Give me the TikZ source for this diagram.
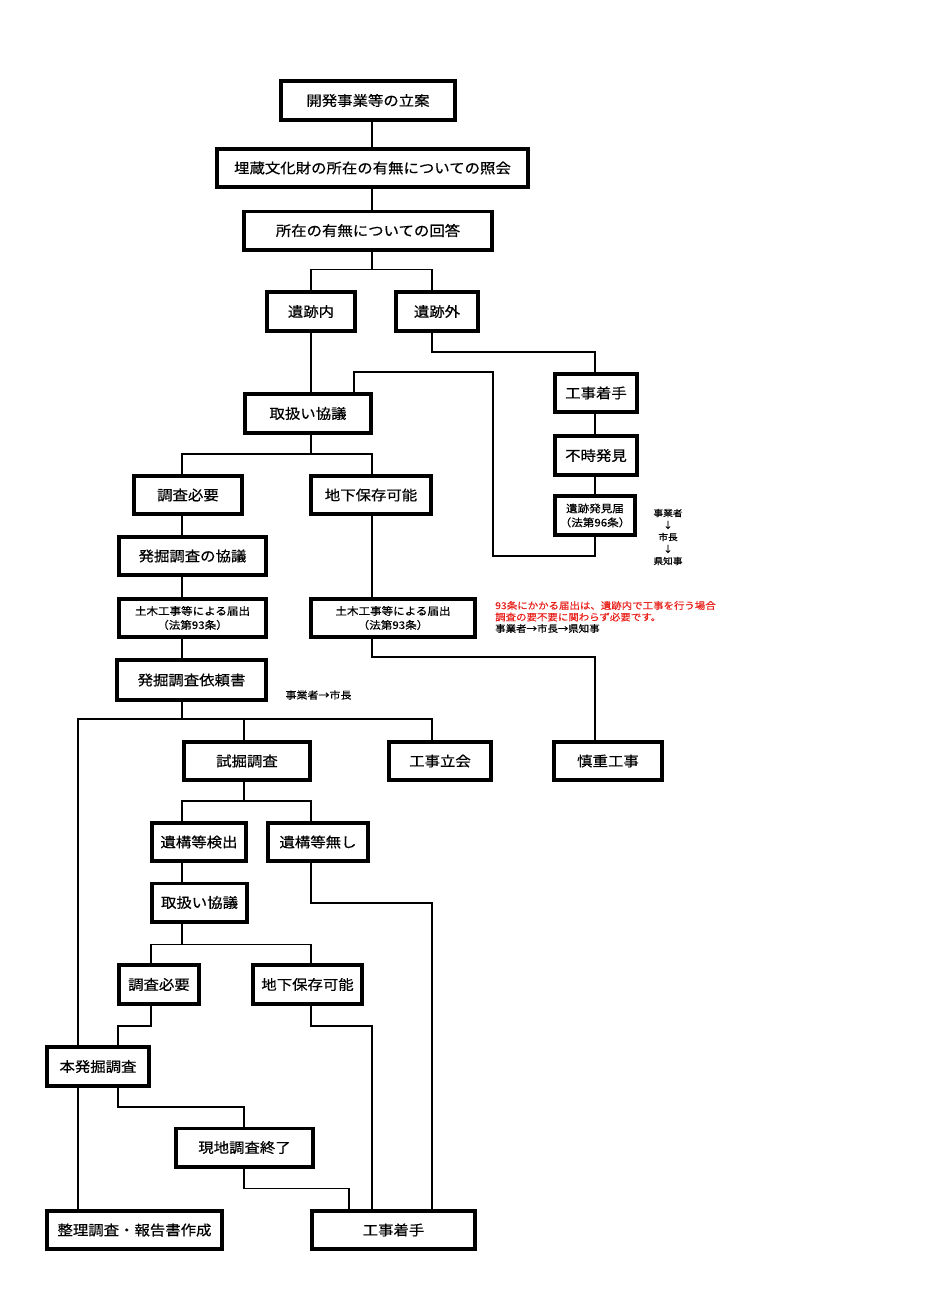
\documentclass[tikz,border=0pt]{standalone}
\usepackage{fontspec}
\setmainfont[FakeStretch=1.1,FakeBold=0.5]{Noto Sans CJK JP}
\usepackage{xcolor}
\usepackage{tikz}
\usetikzlibrary{positioning}
\definecolor{notered}{HTML}{E8231E}
\tikzset{
  box/.style  = {draw=black, line width=3.6pt, fill=white, align=center, inner sep=0pt,
                 minimum height=38.4pt, font=\fontsize{14}{16}\selectfont},
  sbox/.style = {box, font=\fontsize{10.5}{14}\selectfont},
  ln/.style   = {line width=1.2pt},
  note/.style = {align=left, inner sep=0pt, font=\fontsize{9.5}{11.5}\selectfont},
}

\begin{document}
\begin{tikzpicture}[x=1pt, y=-1pt]
  \useasboundingbox (0,0) rectangle (932,1300);
  % columns where the connectors run
  \foreach \n/\x in {colA/78,colB/118,colC/151,colD/182,colE/244,colF/311,colG/349,
                     colH/372,colI/432,colM/354,colK/595} {
     \coordinate (\n) at (\x,0);
  }
  \coordinate (loop) at (493,372);

  % top part
  \node[box, minimum width=174.4pt, minimum height=39.4pt] (tachian) at (368,100.5) {開発事業等の立案};
  \node[box, minimum width=311.4pt] (shokai) at (372.5,168) {埋蔵文化財の所在の有無についての照会};
  \node[box, minimum width=248.4pt] (kaito) at (368,230.5) {所在の有無についての回答};
  \node[box, minimum width=88.4pt, minimum height=39.4pt] (inn) at (311,311.5) {遺跡内};
  \node[box, minimum width=82.4pt, minimum height=39.4pt] (gai) at (437,311.5) {遺跡外};
  \node[box, minimum width=126.4pt, minimum height=39.4pt] (kyogi) at (308,413.5) {取扱い協議};

  % outside the site
  \node[box, minimum width=82.4pt] (chakushuA) at (596,393) {工事着手};
  \node[box, minimum width=82.4pt, minimum height=39.4pt] (futoki) at (596,455.5) {不時発見};
  \node[sbox, minimum width=80.4pt, minimum height=39.4pt] (todoke96) at (595,515.5) {遺跡発見届\\（法第96条）};
  \node[note, align=center, font=\fontsize{8.8}{12}\selectfont] (note96) at (668,537) {事業者\\↓\\市長\\↓\\県知事};

  % inside the site
  \node[box, minimum width=108.4pt] (hitsuyo) at (188,495) {調査必要};
  \node[box, minimum width=120.4pt] (chika) at (371,495) {地下保存可能};
  \node[box, minimum width=147.4pt] (hkyogi) at (192.5,556) {発掘調査の協議};
  \node[sbox, minimum width=147.4pt] (doboku1) at (192.5,618) {土木工事等による届出\\（法第93条）};
  \node[sbox, minimum width=164.4pt] (doboku2) at (393,618) {土木工事等による届出\\（法第93条）};
  \node[note, anchor=west] (note93) at (495,617) {\textcolor{notered}{93条にかかる届出は、遺跡内で工事を行う場合}\\
    \textcolor{notered}{調査の要不要に関わらず必要です。}\\事業者→市長→県知事};
  \node[box, minimum width=149.4pt, minimum height=40.4pt] (irai) at (191.5,680) {発掘調査依頼書};
  \node[note, font=\fontsize{10}{10}\selectfont] (noteirai) at (318.5,695) {事業者→市長};

  \node[box, minimum width=126.4pt] (shikutsu) at (247,761) {試掘調査};
  \node[box, minimum width=102.4pt] (tachiai) at (440,761) {工事立会};
  \node[box, minimum width=108.4pt] (shincho) at (608,761) {慎重工事};
  \node[box, minimum width=94.4pt] (kenshutsu) at (199,842) {遺構等検出};
  \node[box, minimum width=100.4pt] (nashi) at (318,842) {遺構等無し};
  \node[box, minimum width=95.4pt] (kyogi2) at (199.5,902.5) {取扱い協議};
  \node[box, minimum width=80.4pt, minimum height=39.4pt] (hitsuyo2) at (159,984.5) {調査必要};
  \node[box, minimum width=109.4pt, minimum height=39.4pt] (chika2) at (307.5,984.5) {地下保存可能};
  \node[box, minimum width=102.4pt, minimum height=39.4pt] (honkussa) at (98,1066.5) {本発掘調査};
  \node[box, minimum width=137.4pt] (genchi) at (244.5,1147.5) {現地調査終了};
  \node[box, minimum width=175.4pt] (seiri) at (134.5,1230) {整理調査・報告書作成};
  \node[box, minimum width=163.4pt] (chakushuB) at (393.5,1230) {工事着手};

  % connectors
  \draw[ln] (tachian.south -| colH) -- (shokai.north -| colH);
  \draw[ln] (shokai.south -| colH) -- (kaito.north -| colH);
  \draw[ln] (kaito.south -| colH) -- ++(0,18) -| (inn.north -| colF);
  \draw[ln] (kaito.south -| colH) ++(0,18) -| (gai.north -| colI);
  \draw[ln] (inn.south -| colF) -- (kyogi.north -| colF);
  \draw[ln] (gai.south -| colI) -- ++(0,19) -| (chakushuA.north -| colK);
  \draw[ln] (chakushuA.south -| colK) -- (futoki.north -| colK);
  \draw[ln] (futoki.south -| colK) -- (todoke96.north -| colK);
  \draw[ln] (todoke96.south -| colK) -- ++(0,19) -| (loop) -| (kyogi.north -| colM);
  \draw[ln] (kyogi.south -| colF) -- ++(0,19) -| (hitsuyo.north -| colD);
  \draw[ln] (kyogi.south -| colF) ++(0,19) -| (chika.north -| colH);
  \draw[ln] (hitsuyo.south -| colD) -- (hkyogi.north -| colD);
  \draw[ln] (hkyogi.south -| colD) -- (doboku1.north -| colD);
  \draw[ln] (doboku1.south -| colD) -- (irai.north -| colD);
  \draw[ln] (chika.south -| colH) -- (doboku2.north -| colH);
  \draw[ln] (doboku2.south -| colH) -- ++(0,18) -| (shincho.north -| colK);
  \draw[ln] (irai.south -| colD) -- ++(0,17) -| (honkussa.north -| colA);
  \draw[ln] (irai.south -| colD) ++(0,17) -| (shikutsu.north -| colE);
  \draw[ln] (irai.south -| colD) ++(0,17) -| (tachiai.north -| colI);
  \draw[ln] (shikutsu.south -| colE) -- ++(0,19) -| (kenshutsu.north -| colD);
  \draw[ln] (shikutsu.south -| colE) ++(0,19) -| (nashi.north -| colF);
  \draw[ln] (kenshutsu.south -| colD) -- (kyogi2.north -| colD);
  \draw[ln] (nashi.south -| colF) -- ++(0,40) -| (chakushuB.north -| colI);
  \draw[ln] (kyogi2.south -| colD) -- ++(0,21) -| (hitsuyo2.north -| colC);
  \draw[ln] (kyogi2.south -| colD) ++(0,21) -| (chika2.north -| colF);
  \draw[ln] (hitsuyo2.south -| colC) -- ++(0,20) -| (honkussa.north -| colB);
  \draw[ln] (chika2.south -| colF) -- ++(0,20) -| (chakushuB.north -| colH);
  \draw[ln] (honkussa.south -| colA) -- (seiri.north -| colA);
  \draw[ln] (honkussa.south -| colB) -- ++(0,19) -| (genchi.north -| colE);
  \draw[ln] (genchi.south -| colE) -- ++(0,20) -| (chakushuB.north -| colG);
\end{tikzpicture}
\end{document}
